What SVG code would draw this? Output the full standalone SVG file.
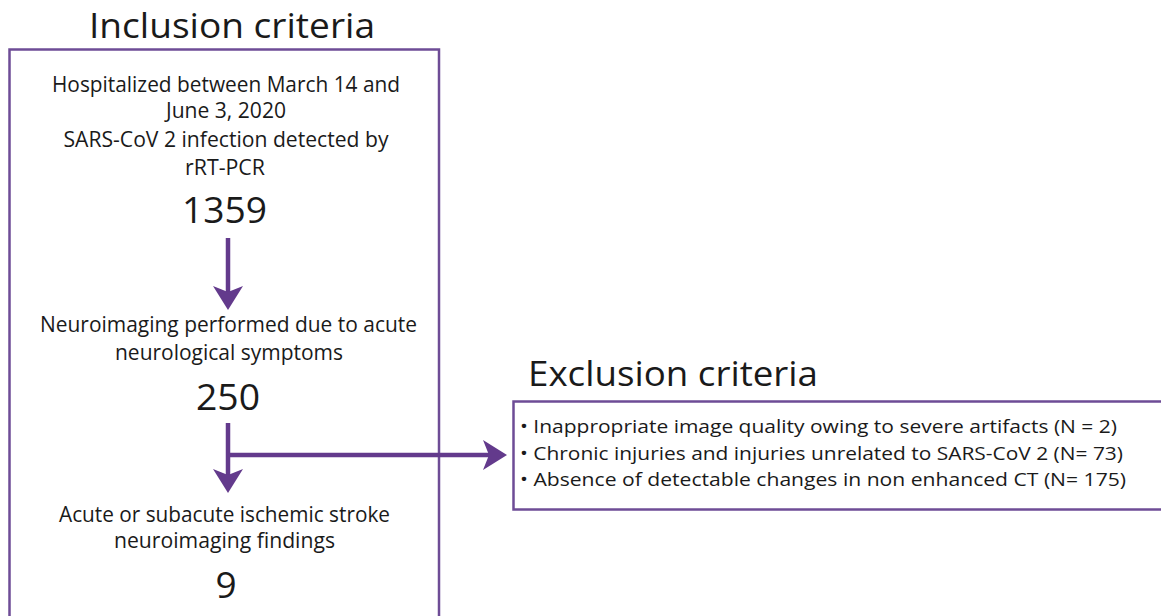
<svg xmlns="http://www.w3.org/2000/svg" width="1161" height="616" viewBox="0 0 1161 616">
  <style>
    text { font-family: "Open Sans", "Liberation Sans", sans-serif; fill: #1a1a1a; }
    .title { font-size: 35px; }
    .body { font-size: 21px; }
    .num { font-size: 37px; }
    .item { font-size: 19px; }
    .c { text-anchor: middle; }
    .box { fill: none; stroke: #6e4c96; stroke-width: 2.5; }
    .conn { fill: none; stroke: #633a8c; stroke-width: 4.5; }
  </style>
  <defs>
    <marker id="arrow" markerUnits="userSpaceOnUse" viewBox="0 0 24 30" refX="6" refY="15" markerWidth="24" markerHeight="30" orient="auto">
      <path d="M0,0 L24,15 L0,30 L6,15 Z" fill="#633a8c"/>
    </marker>
  </defs>
  <rect width="1161" height="616" fill="#ffffff"/>

  <g id="inclusion">
    <text class="title c" x="232" y="38" textLength="286" lengthAdjust="spacingAndGlyphs">Inclusion criteria</text>
    <rect class="box" x="9.5" y="49.5" width="429.5" height="600"/>
  </g>

  <g id="node-hospitalized">
    <text class="body c" x="226" y="92" textLength="348" lengthAdjust="spacingAndGlyphs">Hospitalized between March 14 and</text>
    <text class="body c" x="226" y="118" textLength="120" lengthAdjust="spacingAndGlyphs">June 3, 2020</text>
    <text class="body c" x="226" y="147" textLength="325" lengthAdjust="spacingAndGlyphs">SARS-CoV 2 infection detected by</text>
    <text class="body c" x="225" y="175" textLength="80" lengthAdjust="spacingAndGlyphs">rRT-PCR</text>
    <text class="num c" x="224.5" y="223" textLength="85" lengthAdjust="spacingAndGlyphs">1359</text>
  </g>

  <g id="node-neuroimaging">
    <text class="body c" x="228.5" y="332" textLength="377" lengthAdjust="spacingAndGlyphs">Neuroimaging performed due to acute</text>
    <text class="body c" x="229" y="360" textLength="228" lengthAdjust="spacingAndGlyphs">neurological symptoms</text>
    <text class="num c" x="228" y="410" textLength="64" lengthAdjust="spacingAndGlyphs">250</text>
  </g>

  <g id="node-stroke">
    <text class="body c" x="224.5" y="522" textLength="331" lengthAdjust="spacingAndGlyphs">Acute or subacute ischemic stroke</text>
    <text class="body c" x="224.5" y="548" textLength="221" lengthAdjust="spacingAndGlyphs">neuroimaging findings</text>
    <text class="num c" x="226" y="598">9</text>
  </g>

  <g id="exclusion">
    <text class="title" x="528" y="386" textLength="290" lengthAdjust="spacingAndGlyphs">Exclusion criteria</text>
    <rect class="box" x="513.5" y="401.5" width="660" height="108"/>
    <text class="item" x="520" y="433" textLength="597" lengthAdjust="spacingAndGlyphs">• Inappropriate image quality owing to severe artifacts (N = 2)</text>
    <text class="item" x="520" y="459.5" textLength="603" lengthAdjust="spacingAndGlyphs">• Chronic injuries and injuries unrelated to SARS-CoV 2 (N= 73)</text>
    <text class="item" x="520" y="486" textLength="606" lengthAdjust="spacingAndGlyphs">• Absence of detectable changes in non enhanced CT (N= 175)</text>
  </g>

  <g id="connectors">
    <line class="conn" x1="228" y1="238" x2="228" y2="292" marker-end="url(#arrow)"/>
    <line class="conn" x1="228" y1="423" x2="228" y2="475" marker-end="url(#arrow)"/>
    <line class="conn" x1="228" y1="455" x2="489" y2="455" marker-end="url(#arrow)"/>
  </g>
</svg>
